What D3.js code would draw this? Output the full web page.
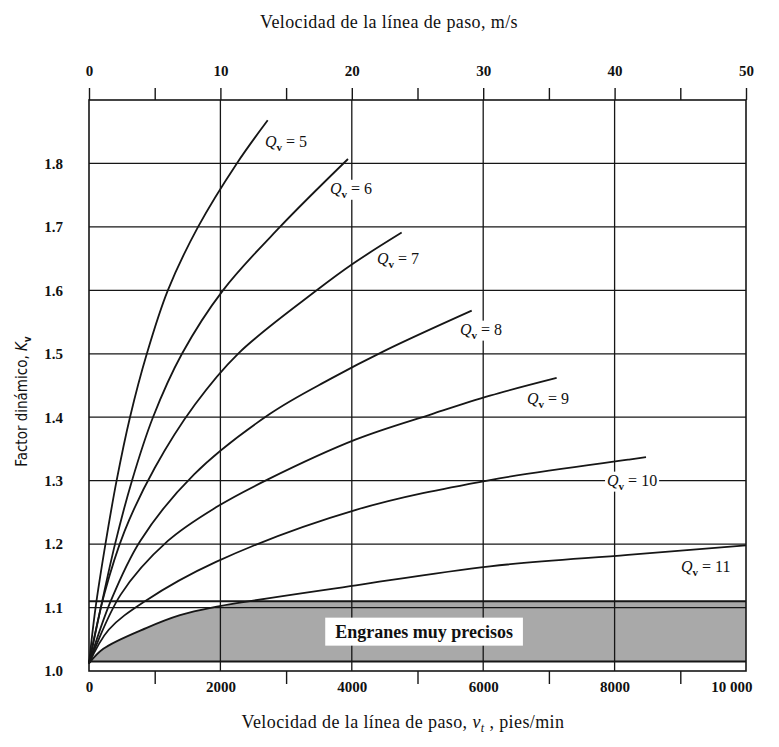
<!DOCTYPE html>
<html>
<head>
<meta charset="utf-8">
<script src="https://cdn.jsdelivr.net/npm/d3@7"></script>
<style>
  body { margin: 0; background: #fff; }
  svg text { font-family: "Liberation Serif", "DejaVu Serif", serif; fill: #111; }
</style>
</head>
<body>
<div id="container"></div>
<script>
/* DATA */
// velocity in ft/min (bottom axis) and m/s (top axis)
const vtGridLines = [2000, 4000, 6000, 8000];
const vtMinorTicks = [1000, 3000, 5000, 7000, 9000];
const vtTickLabels = [0, 2000, 4000, 6000, 8000, 10000];
const msTicks = [0, 5, 10, 15, 20, 25, 30, 35, 40, 45, 50];
const msTickLabels = [0, 10, 20, 30, 40, 50];
const kvTicks = [1.0, 1.1, 1.2, 1.3, 1.4, 1.5, 1.6, 1.7, 1.8];

// curves: [vt (ft/min), Kv]
const qv5 = [[0, 1.012], [100, 1.1], [250, 1.2], [420, 1.3], [624, 1.4], [880, 1.5], [1200, 1.6], [1660, 1.7], [2250, 1.8], [2720, 1.868]];
const qv6 = [[0, 1.012], [180, 1.1], [396, 1.2], [654, 1.3], [974, 1.4], [1415, 1.5], [2039, 1.6], [2907, 1.7], [3942, 1.807]];
const qv7 = [[0, 1.012], [230, 1.12], [540, 1.22], [1000, 1.32], [1613, 1.42], [2268, 1.5], [3466, 1.6], [4033, 1.643], [4759, 1.691]];
const qv8 = [[0, 1.012], [330, 1.11], [780, 1.205], [1600, 1.31], [2750, 1.405], [3668, 1.46], [4505, 1.505], [5825, 1.568]];
const qv9 = [[0, 1.012], [480, 1.12], [1200, 1.205], [1933, 1.258], [2724, 1.302], [4064, 1.365], [5220, 1.405], [6103, 1.434], [7118, 1.462]];
const qv10 = [[0, 1.012], [300, 1.065], [852, 1.11], [1933, 1.172], [4064, 1.254], [6103, 1.301], [8204, 1.333], [8478, 1.337]];
const qv11 = [[0, 1.012], [218, 1.035], [878, 1.068], [1385, 1.088], [1872, 1.1], [4064, 1.135], [6103, 1.165], [8204, 1.183], [10000, 1.198]];

const qvLevels = [5, 6, 7, 8, 9, 10, 11];
const qvCurves = [qv5, qv6, qv7, qv8, qv9, qv10, qv11];
// where each "Qv = n" label sits, [vt, Kv]
const qvLabelAt = [[2679, 1.835], [3668, 1.761], [4383, 1.651], [5646, 1.539], [6667, 1.430], [7885, 1.301], [9011, 1.165]];

// "engranes muy precisos" band, Kv limits
const bandLow = 1.015;
const bandHigh = 1.11;

/* CONSTANTS AND GLOBALS */
const width = 779,
  height = 747,
  margin = {top: 100, bottom: 76, left: 89, right: 33};

const svg = d3.select("#container")
  .append("svg")
  .attr("width", width)
  .attr("height", height);

const x = d3.scaleLinear()
  .domain([0, 10000])
  .range([margin.left, width - margin.right]);

const xTop = d3.scaleLinear()
  .domain([0, 50])
  .range([margin.left, width - margin.right]);

const y = d3.scaleLinear()
  .domain([1.0, 1.9])
  .range([height - margin.bottom, margin.top]);

const ink = "#161616";

// + BAND (under Qv = 11, capped at bandHigh)
svg.append("clipPath")
  .attr("id", "bandClip")
  .append("rect")
  .attr("x", x(0))
  .attr("y", y(bandHigh))
  .attr("width", x(10000) - x(0))
  .attr("height", y(bandLow) - y(bandHigh));

svg.append("path")
  .datum(qv11)
  .attr("clip-path", "url(#bandClip)")
  .attr("fill", "#a9a9a9")
  .attr("d", d3.area()
    .x(d => x(d[0]))
    .y0(y(bandLow))
    .y1(d => y(d[1]))
    .curve(d3.curveCatmullRom.alpha(0.5)));

// + GRID
svg.append("g")
  .selectAll("line")
  .data(kvTicks.slice(1))
  .join("line")
  .attr("x1", x(0))
  .attr("x2", x(10000))
  .attr("y1", d => y(d))
  .attr("y2", d => y(d))
  .attr("stroke", ink)
  .attr("stroke-width", 1.3);

svg.append("g")
  .selectAll("line")
  .data(vtGridLines)
  .join("line")
  .attr("x1", d => x(d))
  .attr("x2", d => x(d))
  .attr("y1", y(1.0))
  .attr("y2", y(1.9))
  .attr("stroke", ink)
  .attr("stroke-width", 1.3);

// band edges
svg.append("g")
  .selectAll("line")
  .data([bandLow, bandHigh])
  .join("line")
  .attr("x1", x(0))
  .attr("x2", x(10000))
  .attr("y1", d => y(d))
  .attr("y2", d => y(d))
  .attr("stroke", ink)
  .attr("stroke-width", 2);

// band label
const bandText = svg.append("text")
  .attr("x", x(5100))
  .attr("y", y((bandLow + bandHigh) / 2))
  .attr("dy", "0.35em")
  .attr("text-anchor", "middle")
  .attr("font-size", 18)
  .attr("font-weight", "bold")
  .text("Engranes muy precisos");
const bb = bandText.node().getBBox();
svg.insert("rect", "text")
  .attr("x", bb.x - 10)
  .attr("y", bb.y - 4)
  .attr("width", bb.width + 20)
  .attr("height", bb.height + 8)
  .attr("fill", "#fff");

// + AXES
const topAxis = d3.axisTop(xTop)
  .tickValues(msTicks)
  .tickSize(12)
  .tickPadding(12)
  .tickFormat(d => msTickLabels.includes(d) ? d : "");

svg.append("g")
  .attr("transform", `translate(0,${margin.top})`)
  .call(topAxis)
  .call(g => g.select(".domain").remove())
  .call(g => g.selectAll("line").attr("stroke", ink).attr("stroke-width", 1.4))
  .call(g => g.selectAll("text").attr("font-size", 15).attr("font-weight", "bold"));

svg.append("g")
  .attr("transform", `translate(0,${height - margin.bottom})`)
  .call(d3.axisBottom(x).tickValues(vtMinorTicks).tickSize(13).tickFormat(""))
  .call(g => g.select(".domain").remove())
  .call(g => g.selectAll("line").attr("stroke", ink).attr("stroke-width", 1.4));

svg.append("g")
  .attr("transform", `translate(0,${height - margin.bottom})`)
  .call(d3.axisBottom(x).tickValues(vtTickLabels).tickSize(0).tickPadding(10)
    .tickFormat(d => d === 10000 ? "10 000" : d))
  .call(g => g.select(".domain").remove())
  .call(g => g.selectAll("text").attr("font-size", 15).attr("font-weight", "bold"))
  .call(g => g.selectAll("text").filter(d => d === 10000).attr("text-anchor", "end").attr("dx", 6));

svg.append("g")
  .attr("transform", `translate(${margin.left},0)`)
  .call(d3.axisLeft(y).tickValues(kvTicks).tickSize(0).tickPadding(26).tickFormat(d3.format(".1f")))
  .call(g => g.select(".domain").remove())
  .call(g => g.selectAll("text").attr("font-size", 15).attr("font-weight", "bold"));

// frame
svg.append("rect")
  .attr("x", x(0))
  .attr("y", y(1.9))
  .attr("width", x(10000) - x(0))
  .attr("height", y(1.0) - y(1.9))
  .attr("fill", "none")
  .attr("stroke", ink)
  .attr("stroke-width", 1.6);

// + QV LABELS (white box first so the grid breaks round them)
const labels = svg.append("g")
  .selectAll("g")
  .data(qvLevels)
  .join("g")
  .attr("transform", (d, i) => `translate(${x(qvLabelAt[i][0])},${y(qvLabelAt[i][1])})`);

labels.each(function(d) {
  const g = d3.select(this);
  const bg = g.append("rect").attr("fill", "#fff");
  const t = g.append("text")
    .attr("dy", "0.35em")
    .attr("font-size", 16);
  t.append("tspan").attr("font-style", "italic").text("Q");
  t.append("tspan").attr("font-size", 11).attr("font-weight", "bold").attr("dy", 4).text("v");
  t.append("tspan").attr("dy", -4).text(" = " + d);
  const b = t.node().getBBox();
  bg.attr("x", b.x - 2).attr("y", b.y).attr("width", b.width + 4).attr("height", b.height);
});

// + CURVES
const line = d3.line()
  .x(d => x(d[0]))
  .y(d => y(d[1]))
  .curve(d3.curveCatmullRom.alpha(0.5));

svg.append("g")
  .selectAll("path")
  .data(qvCurves)
  .join("path")
  .attr("d", line)
  .attr("fill", "none")
  .attr("stroke", ink)
  .attr("stroke-width", 1.8);

labels.raise();

// + TITLES
svg.append("text")
  .attr("x", 389)
  .attr("y", 28)
  .attr("text-anchor", "middle")
  .attr("font-size", 18)
  .attr("letter-spacing", 0.4)
  .text("Velocidad de la línea de paso, m/s");

const bottomTitle = svg.append("text")
  .attr("x", 403)
  .attr("y", 728)
  .attr("text-anchor", "middle")
  .attr("font-size", 18)
  .attr("letter-spacing", 0.4);
bottomTitle.append("tspan").text("Velocidad de la línea de paso, ");
bottomTitle.append("tspan").attr("font-style", "italic").text("v");
bottomTitle.append("tspan").attr("font-style", "italic").attr("font-size", 12).attr("dy", 4).text("t");
bottomTitle.append("tspan").attr("dy", -4).text(" , pies/min");

// y title is set in a sans face in the original
const yTitle = svg.append("text")
  .attr("transform", `translate(27,${(y(1.0) + y(1.9)) / 2 + 16}) rotate(-90)`)
  .attr("text-anchor", "middle")
  .attr("font-size", 15)
  .style("font-family", "'DejaVu Sans', sans-serif")
  .style("font-stretch", "condensed");
yTitle.append("tspan").text("Factor dinámico, ");
yTitle.append("tspan").attr("font-style", "italic").text("K");
yTitle.append("tspan").attr("font-size", 10).attr("font-weight", "bold").attr("dy", 4).text("v");
</script>
</body>
</html>
